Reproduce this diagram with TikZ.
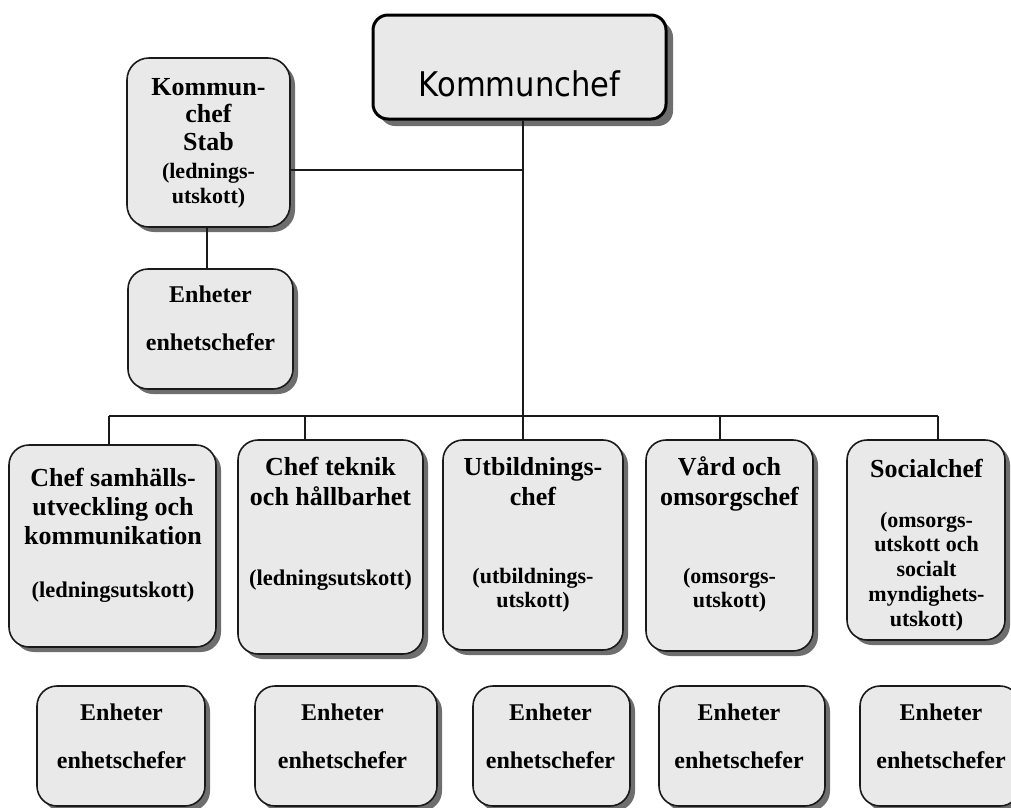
\documentclass[tikz,border=0pt]{standalone}
\usepackage{fontspec}
\setmainfont{Liberation Serif}
\newfontfamily\kcfont[FakeStretch=0.9]{DejaVu Sans}
\usetikzlibrary{shadows}
\definecolor{boxfill}{HTML}{E9E9E9}
\definecolor{boxline}{HTML}{1A1A1A}
\definecolor{shadowgray}{HTML}{6E6E6E}
\newcommand\boxlines[3]{{\fontsize{#1}{#2}\selectfont\bfseries\setlength{\tabcolsep}{0pt}\renewcommand{\arraystretch}{1}\begin{tabular}[t]{c}#3\end{tabular}}}
\tikzset{
  orgbox/.style={rectangle, rounded corners=20pt, draw=boxline, line width=1.6pt, fill=boxfill, inner sep=0pt,
    drop shadow={shadow xshift=5pt, shadow yshift=-5pt, fill=shadowgray, opacity=1}},
  topbox/.style={orgbox, rounded corners=15pt, line width=3pt, draw=black,
    drop shadow={shadow xshift=7pt, shadow yshift=-7pt, fill=shadowgray, opacity=1}},
  txt/.style={anchor=base, inner sep=0pt, text=black},
  conn/.style={draw=boxline, line width=1.6pt}
}
\begin{document}
\begin{tikzpicture}[x=1pt, y=-1pt]
\useasboundingbox (0,0) rectangle (1011,807);
% boxes
\node[topbox, minimum width=293pt, minimum height=104pt] (kc) at (519.5,67) {};
\node[txt] (kct) at (519.5,96) {\kcfont\fontsize{34}{40}\selectfont Kommunchef};

\node[orgbox, rounded corners=22pt, minimum width=163pt, minimum height=169pt] (stab) at (208.5,142.5) {};
\node[txt] (stabt) at (208.5,95) {\boxlines{26}{27.5}{Kommun-\\chef\\Stab}};
\node[txt] (stabs) at (208.5,178) {\boxlines{22}{25}{(lednings-\\utskott)}};

\node[orgbox, minimum width=165pt, minimum height=120pt] (e0) at (210.5,329) {};
\node[txt] (e0t) at (210.5,302) {\boxlines{24}{48}{Enheter\\enhetschefer}};

\node[orgbox, minimum width=207pt, minimum height=202pt] (l1) at (112.5,546) {};
\node[txt] (l1t) at (113,486) {\boxlines{26}{29}{Chef samhälls-\\utveckling och\\kommunikation}};
\node[txt] (l1s) at (113,597) {\boxlines{22.5}{25}{(ledningsutskott)}};

\node[orgbox, minimum width=185pt, minimum height=214pt] (l2) at (330.5,547) {};
\node[txt] (l2t) at (330.5,475) {\boxlines{26}{30}{Chef teknik\\och hållbarhet}};
\node[txt] (l2s) at (330.5,585) {\boxlines{22.5}{25}{(ledningsutskott)}};

\node[orgbox, minimum width=180pt, minimum height=210pt] (l3) at (533,545) {};
\node[txt] (l3t) at (533,475) {\boxlines{26}{30}{Utbildnings-\\chef}};
\node[txt] (l3s) at (533,583) {\boxlines{22}{24}{(utbildnings-\\utskott)}};

\node[orgbox, minimum width=167pt, minimum height=211pt] (l4) at (729.5,545.5) {};
\node[txt] (l4t) at (729.5,475) {\boxlines{26}{30}{Vård och\\omsorgschef}};
\node[txt] (l4s) at (729.5,583) {\boxlines{22}{24}{(omsorgs-\\utskott)}};

\node[orgbox, minimum width=158pt, minimum height=200pt] (l5) at (926,540) {};
\node[txt] (l5t) at (926.5,477) {\boxlines{26}{30}{Socialchef}};
\node[txt] (l5s) at (926.5,527) {\boxlines{22}{24.8}{(omsorgs-\\utskott och\\socialt\\myndighets-\\utskott)}};

\node[orgbox, minimum width=168pt, minimum height=120pt] (e1) at (121,746) {};
\node[txt] (e1t) at (121.5,720) {\boxlines{24}{48}{Enheter\\enhetschefer}};
\node[orgbox, minimum width=182pt, minimum height=120pt] (e2) at (346,746) {};
\node[txt] (e2t) at (342.5,720) {\boxlines{24}{48}{Enheter\\enhetschefer}};
\node[orgbox, minimum width=157pt, minimum height=120pt] (e3) at (551.5,746) {};
\node[txt] (e3t) at (550.5,720) {\boxlines{24}{48}{Enheter\\enhetschefer}};
\node[orgbox, minimum width=166pt, minimum height=120pt] (e4) at (742,746) {};
\node[txt] (e4t) at (739,720) {\boxlines{24}{48}{Enheter\\enhetschefer}};
\node[orgbox, minimum width=160pt, minimum height=120pt] (e5) at (940,746) {};
\node[txt] (e5t) at (941,720) {\boxlines{24}{48}{Enheter\\enhetschefer}};

% connector coordinates
\coordinate (tx) at (523,0);
\coordinate (hy) at (0,170);
\coordinate (bus) at (0,416);
\coordinate (d1) at (109,0);
\coordinate (d2) at (305,0);
\coordinate (d4) at (720,0);
\coordinate (d5) at (938,0);

% connectors
\draw[conn] (tx |- kc.south) -- (tx |- l3.north);
\draw[conn] (stab.east |- hy) -- (tx |- hy);
\draw[conn] (stab.south -| 207,0) -- (e0.north -| 207,0);
\draw[conn] (d1 |- bus) -- (d5 |- bus);
\draw[conn] (d1 |- bus) -- (d1 |- l1.north);
\draw[conn] (d2 |- bus) -- (d2 |- l2.north);
\draw[conn] (d4 |- bus) -- (d4 |- l4.north);
\draw[conn] (d5 |- bus) -- (d5 |- l5.north);
\end{tikzpicture}
\end{document}
